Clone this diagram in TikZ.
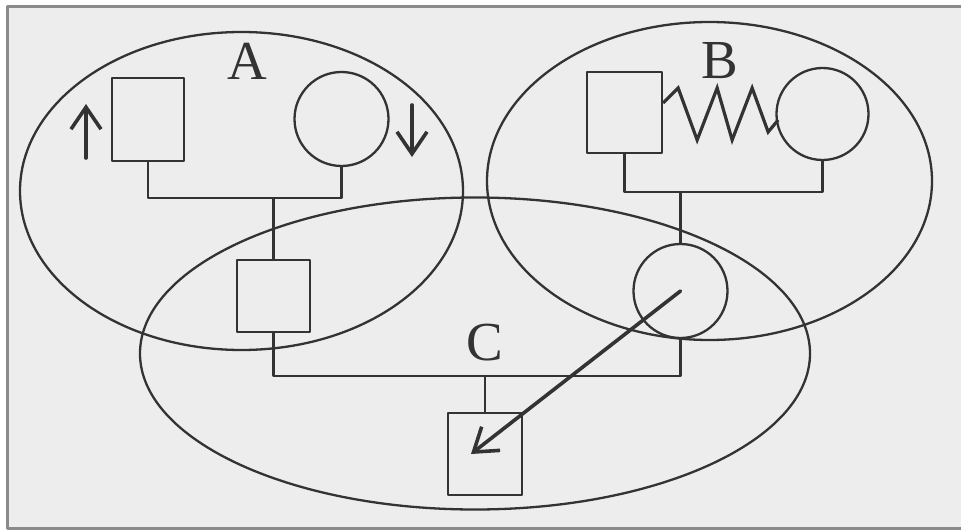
\documentclass[tikz,border=0pt]{standalone}
\usepackage{fontspec}
\setmainfont{Liberation Serif}
\usetikzlibrary{arrows.meta}
\definecolor{ink}{HTML}{333333}
\definecolor{paper}{HTML}{EDEDED}
\definecolor{rule}{HTML}{8A8A8A}
\begin{document}
\begin{tikzpicture}[x=1pt,y=-1pt,
  line join=round,
  thin line/.style={draw=ink,line width=2.3pt},
  sqbox/.style={thin line,rectangle,inner sep=0pt},
  circbox/.style={thin line,circle,inner sep=0pt},
  region/.style={draw=ink,line width=2.3pt},
  tag/.style={text=ink,font=\fontsize{55}{55}\selectfont,inner sep=0pt},
  barb/.style={draw=ink,line width=3.6pt,line cap=round,
    -{Straight Barb[length=22pt,width=30pt,line width=3.6pt]}},
  spring/.style={draw=ink,line width=3.2pt,line join=miter}]
% page and frame
\useasboundingbox (0,0) rectangle (961,532);
\fill[white] (0,0) rectangle (961,532);
\fill[paper] (7,7) rectangle (961,528);
\draw[rule,line width=3pt] (961,7) -- (7,7) -- (7,528) -- (961,528);

% the three overlapping groups
\draw[region] (241.5,191) ellipse [x radius=221.5, y radius=159];
\draw[region] (709.5,181) ellipse [x radius=222.5, y radius=159];
\draw[region] (475,353.5) ellipse [x radius=335, y radius=156];

% group A
\node[sqbox,minimum width=72pt,minimum height=83pt] (asq) at (148,119.5) {};
\node[circbox,minimum size=94pt] (acirc) at (341.5,119) {};
\node[sqbox,minimum width=73pt,minimum height=72pt] (msq) at (273.5,296) {};
\coordinate (abar) at (273.5,198);
\draw[thin line] (asq.south) |- (abar) -| (acirc.south);
\draw[thin line] (abar) -- (msq.north);
\coordinate (upfrom) at (86,158);
\coordinate (upto) at (86,104);
\draw[barb] (upfrom) -- (upto);
\coordinate (downfrom) at (412,105);
\coordinate (downto) at (412,157);
\draw[barb] (downfrom) -- (downto);
\node[tag] (la) at (247,61.5) {A};

% group B
\node[sqbox,minimum width=75pt,minimum height=81pt] (bsq) at (624.5,112.5) {};
\node[circbox,minimum size=92pt] (bcirc) at (822.5,114) {};
\node[circbox,minimum size=94pt] (ccirc) at (680.5,291) {};
\coordinate (bbar) at (680.5,192);
\draw[thin line] (bsq.south) |- (bbar) -| (bcirc.south);
\draw[thin line] (bbar) -- (ccirc.north);
\draw[spring] (bsq.east) ++(0,-9.5) -- ++(15,-15) -- ++(19,52) -- ++(20,-52)
  -- ++(15,52) -- ++(20,-52) -- ++(16,44) -- ++(10,-12);
\node[tag] (lb) at (720,60.5) {B};

% group C
\node[sqbox,minimum width=74pt,minimum height=82pt] (dsq) at (485,454) {};
\coordinate (cbar) at (485,376);
\draw[thin line] (msq.south) |- (cbar) -| (ccirc.south);
\draw[thin line] (cbar) -- (dsq.north);
\coordinate (tip) at (471,454);
\draw[barb] (ccirc.center) -- (tip);
\node[tag] (lc) at (485,342.5) {C};
\end{tikzpicture}
\end{document}
